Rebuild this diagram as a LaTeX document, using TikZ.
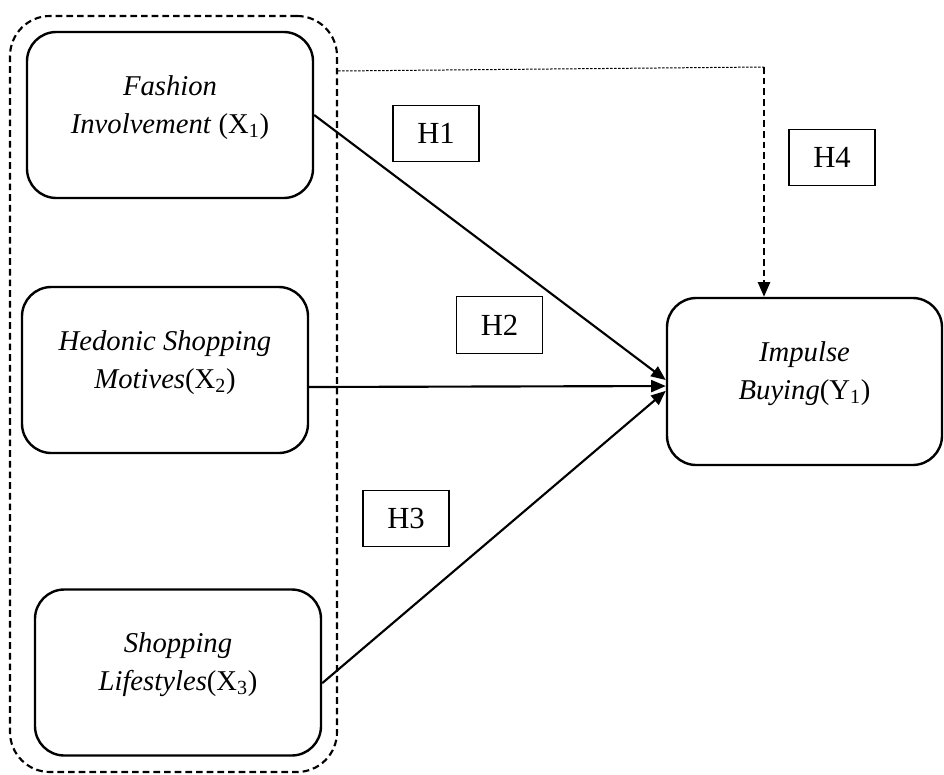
\documentclass[tikz,border=0pt]{standalone}
\usepackage{fontspec}
\setmainfont{Liberation Serif}
\usetikzlibrary{arrows.meta,calc}
\begin{document}
\begin{tikzpicture}[x=0.75pt,y=-0.75pt,
  var/.style={draw, line width=1.8pt, rounded corners=22pt, minimum width=214.5pt, minimum height=124.5pt, align=center, font=\fontsize{21.5}{28.5}\selectfont, inner sep=0pt, text depth=16pt},
  hyp/.style={draw, line width=0.8pt, minimum width=64.5pt, minimum height=42.5pt, font=\fontsize{23}{26}\selectfont, inner sep=0pt},
  link/.style={line width=1.6pt, -{Triangle[length=11pt,width=9pt]}},
  grp/.style={draw, line width=1.6pt, dash pattern=on 5pt off 3pt, rounded corners=30pt, minimum width=245.25pt, minimum height=567pt, inner sep=0pt}]
\useasboundingbox (0,0) rectangle (944,774);
\node[grp] (group) at (173.5,394) {};
\node[var] (x1) at (170,115) {\textit{Fashion}\\\textit{Involvement} (X\textsubscript{1})};
\node[var] (x2) at (165,370) {\textit{Hedonic Shopping}\\\textit{Motives}(X\textsubscript{2})};
\node[var] (x3) at (178,672.5) {\textit{Shopping}\\\textit{Lifestyles}(X\textsubscript{3})};
\node[var, minimum width=206.25pt, minimum height=125.25pt] (y) at (804.5,381.5) {\textit{Impulse}\\\textit{Buying}(Y\textsubscript{1})};
\node[hyp] (h1) at (436,133.5) {H1};
\node[hyp] (h2) at (499.5,325) {H2};
\node[hyp] (h3) at (406,518.5) {H3};
\node[hyp] (h4) at (832,157.5) {H4};
\draw[link] (x1.east) -- ([yshift=1.1pt]y.west);
\draw[link] ([yshift=-12.75pt]x2.east) -- ([yshift=-3.4pt]y.west);
\draw[link] ([yshift=-8pt]x3.east) -- ([yshift=-7pt]y.west);
\coordinate (ty) at (0,71);
\coordinate (t) at (764,67);
\draw[line width=0.75pt, dash pattern=on 2pt off 1pt] (group.east |- ty) -- (t);
\draw[line width=1.7pt, dash pattern=on 5pt off 3pt, -{Triangle[length=11pt,width=9pt]}] (t) -- (t |- y.north);
\end{tikzpicture}
\end{document}
